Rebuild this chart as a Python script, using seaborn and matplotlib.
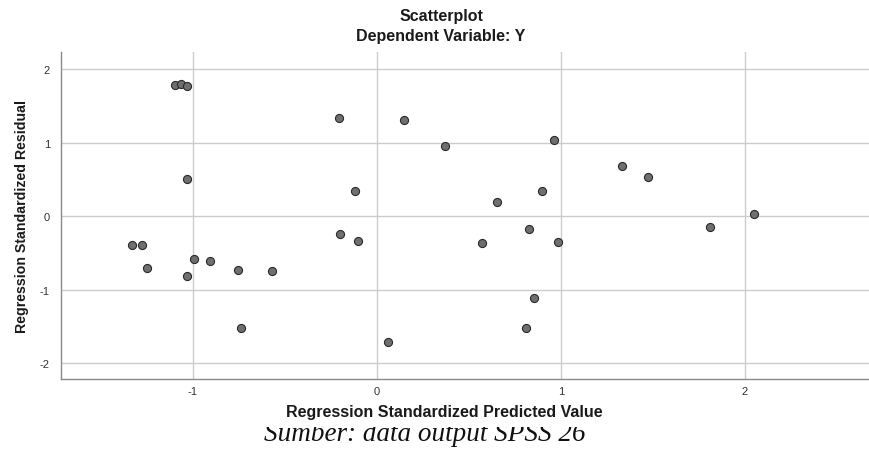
import matplotlib
matplotlib.use("Agg")
import matplotlib.pyplot as plt
from matplotlib.transforms import Bbox
import seaborn as sns
import pandas as pd

# ---- data ----
predicted = [-1.098, -1.065, -1.033, -1.033,
             -1.330, -1.275, -1.250, -0.995, -1.033, -0.906, -0.755, -0.571, -0.741,
             -0.205, 0.147, 0.368, 0.962, -0.118, 0.895, 0.650, 0.824, -0.200,
             -0.103, 0.571, 0.985, 0.853, 0.808, 0.060,
             1.333, 1.471, 2.050, 1.810]
residual = [1.787, 1.800, 1.770, 0.500,
            -0.400, -0.400, -0.700, -0.590, -0.810, -0.610, -0.740, -0.750, -1.530,
            1.334, 1.310, 0.960, 1.030, 0.345, 0.340, 0.190, -0.180, -0.245,
            -0.345, -0.360, -0.355, -1.120, -1.530, -1.710,
            0.680, 0.530, 0.027, -0.155]
x_ticks = [-1, 0, 1, 2]
y_ticks = [-2, -1, 0, 1, 2]

title = "Scatterplot"
subtitle = "Dependent Variable: Y"
x_label = "Regression Standardized Predicted Value"
y_label = "Regression Standardized Residual"
caption = "Sumber: data output SPSS 26"

df = pd.DataFrame({"pred": predicted, "resid": residual})

sns.set_style("white")
plt.rcParams["font.family"] = ["Liberation Sans", "DejaVu Sans"]
plt.rcParams["axes.unicode_minus"] = False

W, H = 870, 456
fig = plt.figure(figsize=(W / 100, H / 100), dpi=100)
ax = fig.add_axes([61 / W, (H - 380.3) / H, 809 / W, 327.3 / H])

sns.scatterplot(data=df, x="pred", y="resid", ax=ax, s=34,
                color="#6f6f6f", edgecolor="#2a2a2a", linewidth=0.8, zorder=3)

ax.set_xlim(-1.717, 2.679)
ax.set_ylim(-2.222, 2.234)
ax.set_xticks(x_ticks)
ax.set_yticks(y_ticks)
ax.grid(True, color="#cccccc", linewidth=1.0, zorder=0)
ax.set_axisbelow(True)
for side in ["top", "right"]:
    ax.spines[side].set_visible(False)
for side in ["left", "bottom"]:
    ax.spines[side].set_color("#8a8a8a")
    ax.spines[side].set_linewidth(1.0)
ax.tick_params(axis="both", length=0, labelsize=8, colors="#333333")
ax.tick_params(axis="x", pad=5)
ax.tick_params(axis="y", pad=8)

ax.set_xlabel(x_label, fontsize=11.5, fontweight="bold", color="#1a1a1a")
ax.xaxis.label.set_va("center")
ax.xaxis.set_label_coords((444 - 61) / 809, -(413 - 380.3) / 327.3)
ax.set_ylabel(y_label, fontsize=10.2, fontweight="bold", color="#1a1a1a")
ax.yaxis.label.set_va("center")
ax.yaxis.set_label_coords((22 - 61) / 809, 0.5)

fig.text(441 / W, 1 - 17 / H, title, ha="center", va="center",
         fontsize=11.5, fontweight="bold", color="#1a1a1a")
fig.text(441 / W, 1 - 37 / H, subtitle, ha="center", va="center",
         fontsize=11.5, fontweight="bold", color="#1a1a1a")

cap = fig.text(425 / W, 1 - 441 / H, caption, ha="center", va="baseline",
               fontsize=19.5, fontstyle="italic", family=["Liberation Serif", "DejaVu Serif"],
               color="#111111", clip_on=True)
# the reference shows this caption cropped just above its x-height
cap.set_clip_box(Bbox([[0, 0], [W, H - 427.5]]))

fig.savefig("out.png", dpi=100)
